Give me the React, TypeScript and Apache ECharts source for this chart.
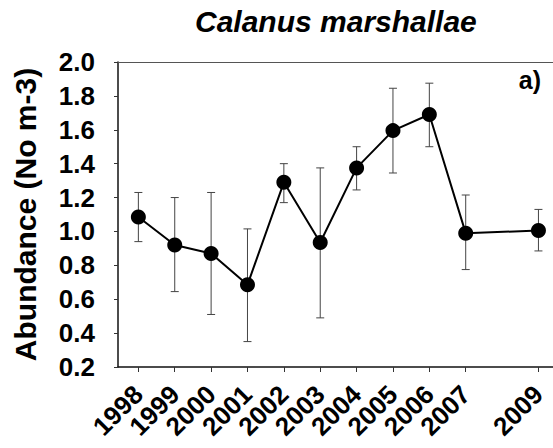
import React, { useEffect, useRef } from "react";
import * as echarts from "echarts";

const years = [1998, 1999, 2000, 2001, 2002, 2003, 2004, 2005, 2006, 2007, 2009];
const means = [1.085, 0.92, 0.87, 0.685, 1.29, 0.935, 1.375, 1.595, 1.69, 0.99, 1.005];
const upper = [1.23, 1.2, 1.23, 1.015, 1.4, 1.375, 1.5, 1.845, 1.875, 1.215, 1.13];
const lower = [0.94, 0.645, 0.51, 0.35, 1.17, 0.49, 1.245, 1.345, 1.5, 0.775, 0.885];
const tickYears = [1998, 1999, 2000, 2001, 2002, 2003, 2004, 2005, 2006, 2007, 2009];
// labels split across two overlaid bottom axes so none gets auto-hidden
const labelYearsA = [1998, 2000, 2001, 2002, 2003, 2004, 2005, 2006, 2007, 2009];
const labelYearsB = [1999];

const FONT = "'Liberation Sans', Arial, sans-serif";
const X_MIN = 1997.44;
const X_MAX = 2009.4;

export default function App() {
  const ref = useRef<HTMLDivElement>(null);
  useEffect(() => {
    if (!ref.current) return;
    const chart = echarts.init(ref.current, null, { renderer: "svg" });
    const lineData = years.map((y, i) => [y, means[i]]);
    const errData = years.map((y, i) => [y, lower[i], upper[i]]);
    const xLabel = (vals: number[]) => ({
      customValues: vals,
      showMinLabel: true,
      showMaxLabel: true,
      hideOverlap: false,
      rotate: 45,
      margin: 23,
      fontFamily: FONT,
      fontSize: 26,
      fontWeight: "bold",
      color: "#000",
      formatter: (v: number) => String(Math.round(v)),
    });
    chart.setOption({
      animation: false,
      backgroundColor: "#ffffff",
      grid: { left: 118, top: 62, right: 0, bottom: 81 },
      title: {
        text: "Calanus marshallae",
        left: 190,
        top: 1,
        textStyle: { fontFamily: FONT, fontSize: 30, fontWeight: "bold", fontStyle: "italic", color: "#000" },
      },
      graphic: [
        {
          type: "text",
          right: 12,
          top: 67,
          style: { text: "a)", fontFamily: FONT, fontSize: 25, fontWeight: "bold", fill: "#000" },
        },
      ],
      xAxis: [
        {
          type: "value",
          position: "bottom",
          min: X_MIN,
          max: X_MAX,
          splitLine: { show: false },
          axisLine: { show: true, lineStyle: { color: "#111", width: 1.5 } },
          axisTick: { show: true, length: 5, lineStyle: { color: "#333" }, customValues: tickYears },
          axisLabel: xLabel(labelYearsA),
        },
        {
          type: "value",
          position: "top",
          min: X_MIN,
          max: X_MAX,
          splitLine: { show: false },
          axisLine: { show: true, lineStyle: { color: "#555", width: 1 } },
          axisTick: { show: false },
          axisLabel: { show: false },
        },
        {
          type: "value",
          position: "bottom",
          min: X_MIN,
          max: X_MAX,
          splitLine: { show: false },
          axisLine: { show: false },
          axisTick: { show: false },
          axisLabel: xLabel(labelYearsB),
        },
      ],
      yAxis: {
        type: "value",
        min: 0.2,
        max: 2.0,
        interval: 0.2,
        name: "Abundance (No m-3)",
        nameLocation: "middle",
        nameGap: 78,
        nameTextStyle: { fontFamily: FONT, fontSize: 30, fontWeight: "bold", color: "#000" },
        splitLine: { show: false },
        axisLine: { show: true, lineStyle: { color: "#111", width: 1.5 } },
        axisTick: { show: true, length: 4, lineStyle: { color: "#333" } },
        axisLabel: {
          showMinLabel: true,
          showMaxLabel: true,
          hideOverlap: false,
          margin: 23,
          fontFamily: FONT,
          fontSize: 26,
          fontWeight: "bold",
          color: "#000",
          formatter: (v: number) => v.toFixed(1),
        },
      },
      series: [
        {
          type: "custom",
          name: "error",
          data: errData,
          z: 1,
          renderItem: (params: any, api: any) => {
            const x = api.value(0);
            const pLo = api.coord([x, api.value(1)]);
            const pHi = api.coord([x, api.value(2)]);
            const hw = 4;
            const st = { stroke: "#444", lineWidth: 1 };
            return {
              type: "group",
              children: [
                { type: "line", shape: { x1: pHi[0], y1: pHi[1], x2: pLo[0], y2: pLo[1] }, style: st },
                { type: "line", shape: { x1: pHi[0] - hw, y1: pHi[1], x2: pHi[0] + hw, y2: pHi[1] }, style: st },
                { type: "line", shape: { x1: pLo[0] - hw, y1: pLo[1], x2: pLo[0] + hw, y2: pLo[1] }, style: st },
              ],
            };
          },
        },
        {
          type: "line",
          name: "abundance",
          data: lineData,
          z: 3,
          symbol: "circle",
          symbolSize: 15,
          lineStyle: { color: "#000", width: 2 },
          itemStyle: { color: "#000" },
        },
      ],
    });
    return () => chart.dispose();
  }, []);
  return <div ref={ref} style={{ width: 553, height: 448, position: "absolute", left: 0, top: 0 }} />;
}
